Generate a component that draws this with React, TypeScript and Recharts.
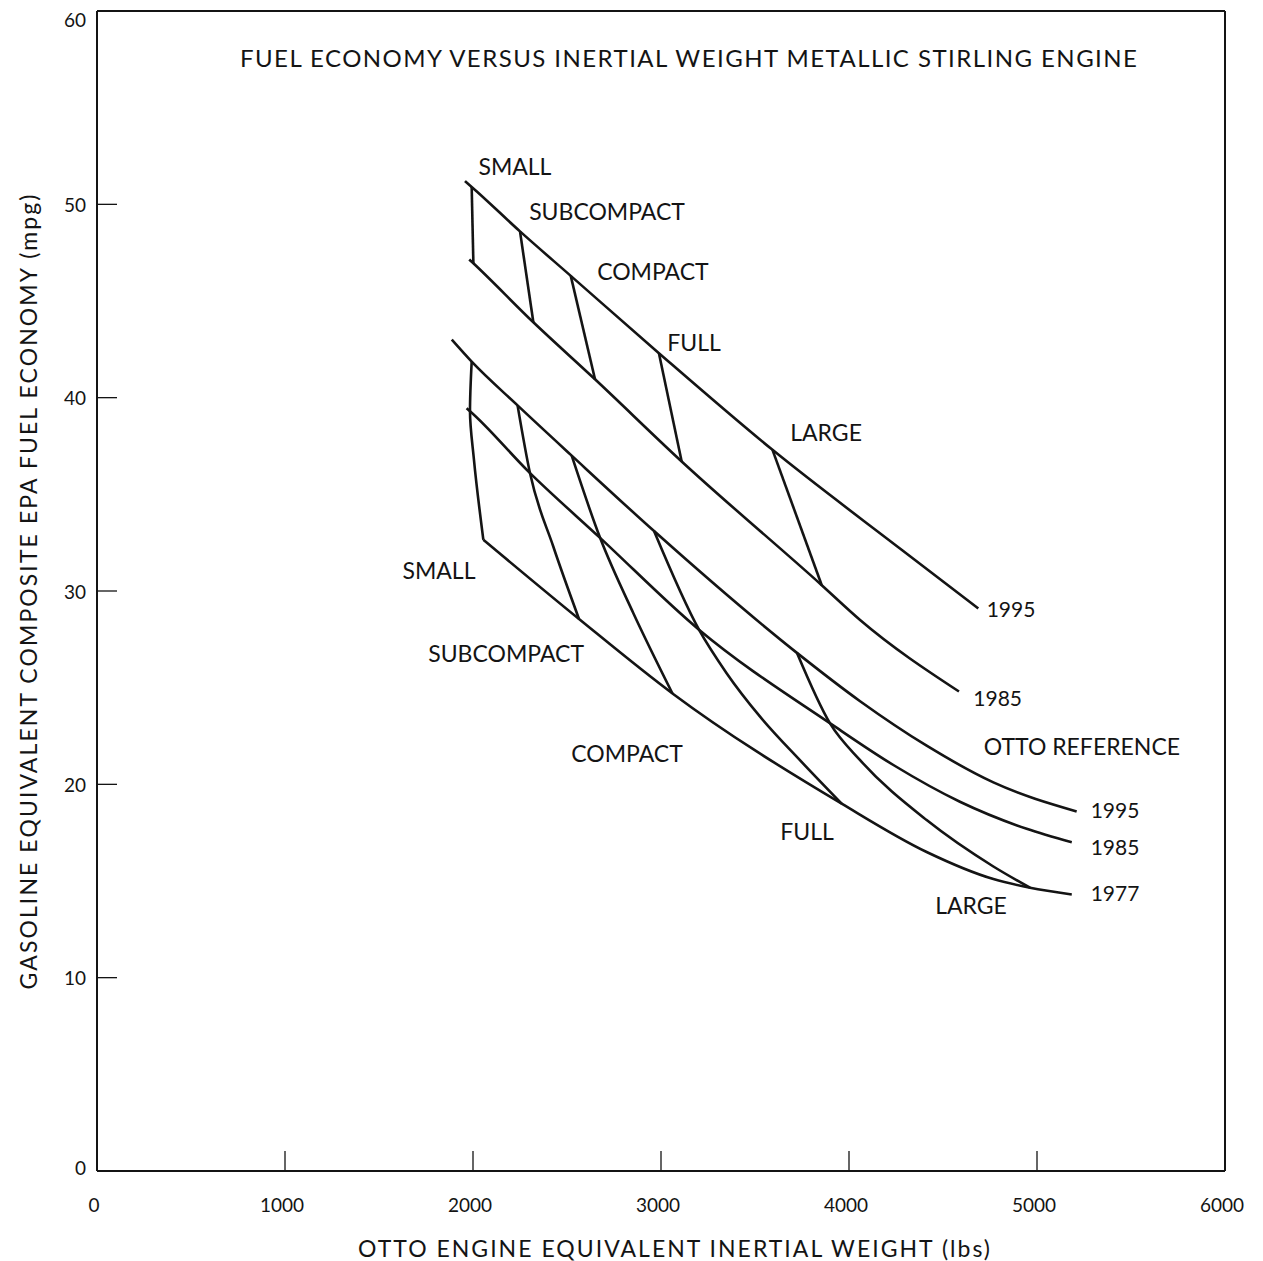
import { LineChart, Line, XAxis, YAxis, ReferenceLine, ReferenceDot } from 'recharts';

type Pt = { x: number; y: number };

// axis ticks
const xTicks = [0, 1000, 2000, 3000, 4000, 5000, 6000];
const yTicks = [0, 10, 20, 30, 40, 50, 60];

// metallic Stirling engine, two technology years
const stirling1995: Pt[] = [
  { x: 1957, y: 51.2 }, { x: 1993, y: 50.9 }, { x: 2250, y: 48.6 }, { x: 2520, y: 46.3 },
  { x: 2989, y: 42.3 }, { x: 3593, y: 37.3 }, { x: 4271, y: 32.2 }, { x: 4688, y: 29.1 },
];
const stirling1985: Pt[] = [
  { x: 1980, y: 47.15 }, { x: 2002, y: 46.95 }, { x: 2321, y: 43.9 }, { x: 2649, y: 40.95 },
  { x: 3110, y: 36.7 }, { x: 3855, y: 30.3 }, { x: 4059, y: 28.5 }, { x: 4585, y: 24.8 },
];

// car class connectors, Stirling group
const stirSmall: Pt[] = [{ x: 1993, y: 50.9 }, { x: 2002, y: 46.95 }];
const stirSubcompact: Pt[] = [{ x: 2250, y: 48.6 }, { x: 2321, y: 43.9 }];
const stirCompact: Pt[] = [{ x: 2520, y: 46.3 }, { x: 2649, y: 40.95 }];
const stirFull: Pt[] = [{ x: 2989, y: 42.3 }, { x: 3110, y: 36.7 }];
const stirLarge: Pt[] = [{ x: 3593, y: 37.3 }, { x: 3855, y: 30.3 }];

// Otto reference engine
const otto1995: Pt[] = [
  { x: 1887, y: 43.0 }, { x: 1993, y: 41.86 }, { x: 2237, y: 39.6 }, { x: 2525, y: 37.0 },
  { x: 2963, y: 33.1 }, { x: 3723, y: 26.8 }, { x: 4059, y: 24.3 }, { x: 4413, y: 22.0 },
  { x: 4768, y: 20.1 }, { x: 5211, y: 18.6 },
];
const otto1985: Pt[] = [
  { x: 1966, y: 39.45 }, { x: 1984, y: 39.3 }, { x: 2298, y: 36.15 }, { x: 2676, y: 32.75 },
  { x: 3202, y: 28.0 }, { x: 3908, y: 23.1 }, { x: 4236, y: 21.0 }, { x: 4590, y: 19.1 },
  { x: 4945, y: 17.7 }, { x: 5185, y: 17.0 },
];
const otto1977: Pt[] = [
  { x: 2055, y: 32.65 }, { x: 2564, y: 28.55 }, { x: 3061, y: 24.7 }, { x: 3961, y: 19.0 },
  { x: 4413, y: 16.5 }, { x: 4768, y: 15.1 }, { x: 4963, y: 14.65 }, { x: 5185, y: 14.3 },
];

// car class connectors, Otto group
const ottoSmall: Pt[] = [{ x: 2055, y: 32.65 }, { x: 2005, y: 36.8 }, { x: 1984, y: 39.3 }, { x: 1993, y: 41.86 }];
const ottoSubcompact: Pt[] = [{ x: 2237, y: 39.6 }, { x: 2303, y: 36.1 }, { x: 2427, y: 32.3 }, { x: 2564, y: 28.55 }];
const ottoCompact: Pt[] = [{ x: 2525, y: 37.0 }, { x: 2676, y: 32.75 }, { x: 2853, y: 28.85 }, { x: 3061, y: 24.7 }];
const ottoFull: Pt[] = [
  { x: 2963, y: 33.1 }, { x: 3202, y: 28.0 }, { x: 3349, y: 25.75 }, { x: 3527, y: 23.5 },
  { x: 3739, y: 21.25 }, { x: 3961, y: 19.0 },
];
const ottoLarge: Pt[] = [
  { x: 3723, y: 26.8 }, { x: 3899, y: 23.15 }, { x: 4059, y: 21.25 }, { x: 4413, y: 18.15 },
  { x: 4768, y: 15.75 }, { x: 4963, y: 14.65 },
];

const annotations = [
  { text: 'SMALL', x: 2223, y: 52.0 },
  { text: 'SUBCOMPACT', x: 2713, y: 49.65 },
  { text: 'COMPACT', x: 2957, y: 46.55 },
  { text: 'FULL', x: 3176, y: 42.9 },
  { text: 'LARGE', x: 3878, y: 38.2 },
  { text: '1995', x: 4862, y: 29.1 },
  { text: '1985', x: 4791, y: 24.5 },
  { text: 'SMALL', x: 1819, y: 31.1 },
  { text: 'SUBCOMPACT', x: 2176, y: 26.8 },
  { text: 'COMPACT', x: 2819, y: 21.6 },
  { text: 'FULL', x: 3777, y: 17.6 },
  { text: 'LARGE', x: 4649, y: 13.75 },
  { text: 'OTTO REFERENCE', x: 5239, y: 22.0 },
  { text: '1995', x: 5415, y: 18.7 },
  { text: '1985', x: 5415, y: 16.8 },
  { text: '1977', x: 5415, y: 14.4 },
];

const title = { text: 'FUEL ECONOMY VERSUS INERTIAL WEIGHT METALLIC STIRLING ENGINE', x: 3146, y: 57.6 };

const INK = '#141414';
const FONT = "Lato, 'Open Sans', sans-serif";

function XTick({ x, y, payload }: any) {
  const v = payload.value;
  return (
    <g>
      {v > 0 && v < 6000 && <line x1={x} x2={x} y1={y} y2={y - 20} stroke={INK} strokeWidth={1.3} />}
      <text x={x - 3} y={y + 33} textAnchor="middle" dominantBaseline="central" fontSize={19} fontFamily={FONT} fill={INK}>
        {v}
      </text>
    </g>
  );
}

function YTick({ x, y, payload }: any) {
  const v = payload.value;
  const dy = v === 60 ? 8 : v === 0 ? -4 : 0;
  return (
    <g>
      {v > 0 && v < 60 && <line x1={x} x2={x + 20} y1={y} y2={y} stroke={INK} strokeWidth={1.3} />}
      <text x={x - 11} y={y + dy} textAnchor="end" dominantBaseline="central" fontSize={19} fontFamily={FONT} fill={INK}>
        {v}
      </text>
    </g>
  );
}

function lineProps(data: Pt[], type: any) {
  return {
    data,
    dataKey: 'y',
    type,
    stroke: INK,
    strokeWidth: 2.6,
    dot: false,
    activeDot: false,
    isAnimationActive: false,
  } as any;
}

export default function App() {
  return (
    <div style={{ position: 'absolute', left: 0, top: 0, background: '#fff' }}>
      <LineChart width={1263} height={1261} margin={{ top: 11, right: 38, bottom: 10, left: 0 }}>
        <XAxis
          type="number"
          dataKey="x"
          domain={[0, 6000]}
          ticks={xTicks}
          interval={0}
          allowDataOverflow
          height={80}
          tickSize={0}
          tickMargin={0}
          tickLine={false}
          axisLine={{ stroke: INK, strokeWidth: 2 }}
          tick={(p: any) => <XTick {...p} />}
          label={(p: any) => {
            const vb = p.viewBox || {};
            const cx = (vb.x ?? 97) + (vb.width ?? 1128) / 2 + 13;
            return (
              <text x={cx} y={1248} textAnchor="middle" dominantBaseline="central" fontSize={23} fontFamily={FONT} fill={INK} textLength={632} lengthAdjust="spacing">
                OTTO ENGINE EQUIVALENT INERTIAL WEIGHT (lbs)
              </text>
            );
          }}
        />
        <YAxis
          type="number"
          dataKey="y"
          domain={[0, 60]}
          ticks={yTicks}
          interval={0}
          allowDataOverflow
          width={97}
          tickSize={0}
          tickMargin={0}
          tickLine={false}
          axisLine={{ stroke: INK, strokeWidth: 2 }}
          tick={(p: any) => <YTick {...p} />}
          label={() => (
            <text x={28} y={592} transform="rotate(-90 28 592)" textAnchor="middle" dominantBaseline="central" fontSize={23} fontFamily={FONT} fill={INK} textLength={795} lengthAdjust="spacing">
              GASOLINE EQUIVALENT COMPOSITE EPA FUEL ECONOMY (mpg)
            </text>
          )}
        />
        <ReferenceLine y={60} stroke={INK} strokeWidth={2} />
        <ReferenceLine x={6000} stroke={INK} strokeWidth={2} />

        <Line {...lineProps(stirling1995, 'monotone')} />
        <Line {...lineProps(stirling1985, 'monotone')} />
        <Line {...lineProps(stirSmall, 'linear')} />
        <Line {...lineProps(stirSubcompact, 'linear')} />
        <Line {...lineProps(stirCompact, 'linear')} />
        <Line {...lineProps(stirFull, 'linear')} />
        <Line {...lineProps(stirLarge, 'linear')} />

        <Line {...lineProps(otto1995, 'monotone')} />
        <Line {...lineProps(otto1985, 'monotone')} />
        <Line {...lineProps(otto1977, 'monotone')} />
        <Line {...lineProps(ottoSmall, 'monotoneY')} />
        <Line {...lineProps(ottoSubcompact, 'monotone')} />
        <Line {...lineProps(ottoCompact, 'monotone')} />
        <Line {...lineProps(ottoFull, 'monotone')} />
        <Line {...lineProps(ottoLarge, 'monotone')} />

        <ReferenceDot
          x={title.x}
          y={title.y}
          r={0}
          ifOverflow="visible"
          shape={(p: any) => (
            <text x={p.cx} y={p.cy} textAnchor="middle" dominantBaseline="central" fontSize={24} fontFamily={FONT} fill={INK} textLength={897} lengthAdjust="spacing">
              {title.text}
            </text>
          )}
        />
        {annotations.map((a, i) => (
          <ReferenceDot
            key={i}
            x={a.x}
            y={a.y}
            r={0}
            ifOverflow="visible"
            shape={(p: any) => (
              <text x={p.cx} y={p.cy} textAnchor="middle" dominantBaseline="central" fontSize={/^\d+$/.test(a.text) ? 21 : 23} fontFamily={FONT} fill={INK}>
                {a.text}
              </text>
            )}
          />
        ))}
      </LineChart>
    </div>
  );
}
